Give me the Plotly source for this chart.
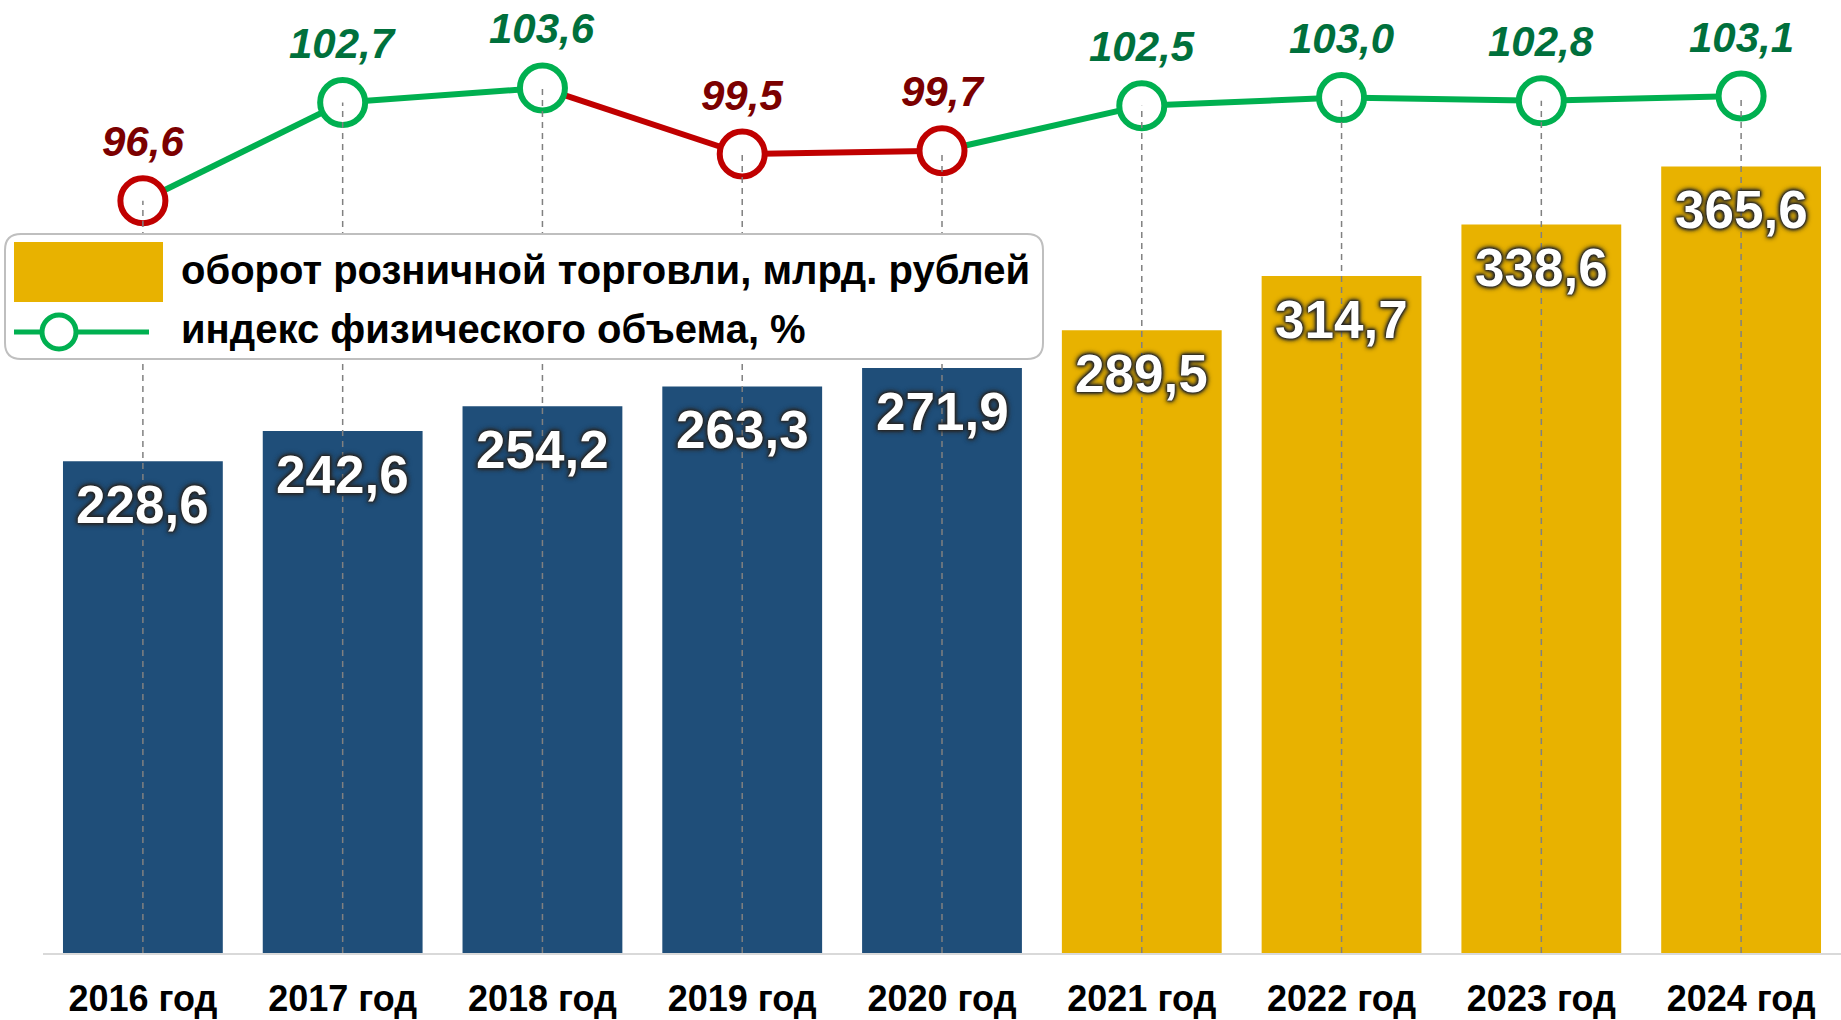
import plotly.graph_objects as go

# ---------------- data ----------------
categories = ["2016 год", "2017 год", "2018 год", "2019 год", "2020 год",
              "2021 год", "2022 год", "2023 год", "2024 год"]
turnover = [228.6, 242.6, 254.2, 263.3, 271.9, 289.5, 314.7, 338.6, 365.6]
volume_index = [96.6, 102.7, 103.6, 99.5, 99.7, 102.5, 103.0, 102.8, 103.1]
legend_labels = ["оборот розничной торговли, млрд. рублей",
                 "индекс физического объема, %"]

# ---------------- styles ----------------
NAVY = "#1F4E79"
GOLD = "#E8B200"
GREEN = "#00B050"
RED = "#C00000"
GREEN_TXT = "#00703C"
RED_TXT = "#7B0000"
FONT = "Liberation Sans, Arial, sans-serif"
N_HIST = 5  # first five bars are navy

W, H = 1841, 1020
ML, MR, MT, MB = 43, 0, 0, 67
PW, PH = W - ML - MR, H - MT - MB
Y1_RANGE = [0, 443]
Y2_RANGE = [49.9, 109.06]
SHADOW = ("0 0 1px #262626, 0 0 2px #262626, 0 0 3px #262626, 0 0 4px #262626, "
          "0 0 5px #2b2b2b, 0 0 6px #333")


def fmt(v):
    return f"{v:.1f}".replace(".", ",")


def px(x):
    return (x - ML) / PW


def py(y):
    return (H - MB - y) / PH


bar_colors = [NAVY if i < N_HIST else GOLD for i in range(len(categories))]

fig = go.Figure()

fig.add_trace(go.Bar(
    x=categories, y=turnover, marker=dict(color=bar_colors, line=dict(width=0)),
    yaxis="y", showlegend=False, hoverinfo="skip",
))

# line segments coloured by the value they lead to
for i in range(1, len(categories)):
    col = GREEN if volume_index[i] >= 100 else RED
    fig.add_trace(go.Scatter(
        x=categories[i - 1:i + 1], y=volume_index[i - 1:i + 1], mode="lines",
        line=dict(color=col, width=6), yaxis="y2", showlegend=False, hoverinfo="skip",
    ))

pt_colors = [GREEN if v >= 100 else RED for v in volume_index]
fig.add_trace(go.Scatter(
    x=categories, y=volume_index, mode="markers",
    marker=dict(size=45, color="white", line=dict(color=pt_colors, width=6)),
    yaxis="y2", showlegend=False, hoverinfo="skip",
))

# dashed drop lines
dx, dy = [], []
for c, v in zip(categories, volume_index):
    dx += [c, c, None]
    dy += [Y2_RANGE[0], v, None]
fig.add_trace(go.Scatter(
    x=dx, y=dy, mode="lines", line=dict(color="#808080", width=1.5, dash="6px,5px"),
    yaxis="y2", showlegend=False, hoverinfo="skip",
))

annotations = []
for c, v in zip(categories, turnover):
    annotations.append(dict(
        x=c, y=v, xref="x", yref="y", yshift=-43, showarrow=False,
        text=fmt(v), xanchor="center", yanchor="middle",
        font=dict(family=FONT, size=53, weight="bold", color="white", shadow=SHADOW),
    ))
for c, v in zip(categories, volume_index):
    annotations.append(dict(
        x=c, y=v, xref="x", yref="y2", yshift=59, showarrow=False,
        text=fmt(v), xanchor="center", yanchor="middle",
        font=dict(family=FONT, size=42, weight="bold", style="italic",
                  color=GREEN_TXT if v >= 100 else RED_TXT),
    ))

# custom legend
x0, x1, y0, y1, r = 5, 1043, 234, 359, 16
rx, ry = r / PW, r / PH
X0, X1, Y0, Y1 = px(x0), px(x1), py(y1), py(y0)
path = (f"M {X0+rx},{Y0} L {X1-rx},{Y0} Q {X1},{Y0} {X1},{Y0+ry} "
        f"L {X1},{Y1-ry} Q {X1},{Y1} {X1-rx},{Y1} L {X0+rx},{Y1} "
        f"Q {X0},{Y1} {X0},{Y1-ry} L {X0},{Y0+ry} Q {X0},{Y0} {X0+rx},{Y0} Z")
shapes = [
    dict(type="path", path=path, xref="paper", yref="paper", fillcolor="white",
         line=dict(color="#BFBFBF", width=2), layer="above"),
    dict(type="rect", xref="paper", yref="paper", x0=px(14), x1=px(163),
         y0=py(302), y1=py(242), fillcolor=GOLD, line=dict(width=0), layer="above"),
    dict(type="line", xref="paper", yref="paper", x0=px(14), x1=px(149),
         y0=py(332), y1=py(332), line=dict(color=GREEN, width=5), layer="above"),
    dict(type="circle", xref="paper", yref="paper", x0=px(59 - 17), x1=px(59 + 17),
         y0=py(332 + 17), y1=py(332 - 17), fillcolor="white",
         line=dict(color=GREEN, width=5), layer="above"),
]
for lbl, yy in zip(legend_labels, [270, 329]):
    annotations.append(dict(
        x=px(179), y=py(yy), xref="paper", yref="paper", showarrow=False,
        xanchor="left", yanchor="middle", text=lbl,
        font=dict(family=FONT, size=40, weight="bold", color="black"),
    ))

fig.update_layout(
    width=W, height=H, margin=dict(l=ML, r=MR, t=MT, b=MB),
    paper_bgcolor="white", plot_bgcolor="white", bargap=0.2,
    xaxis=dict(showgrid=False, showline=True, linecolor="#D9D9D9", linewidth=2,
               automargin=False, range=[-0.5, len(categories) - 0.5],
               ticks="outside", ticklen=13, tickcolor="rgba(0,0,0,0)",
               tickfont=dict(family=FONT, size=36, color="black", weight="bold")),
    yaxis=dict(range=Y1_RANGE, visible=False, showgrid=False, zeroline=False,
               automargin=False),
    yaxis2=dict(range=Y2_RANGE, overlaying="y", visible=False, showgrid=False,
                zeroline=False, automargin=False),
    shapes=shapes, annotations=annotations, showlegend=False,
)

fig.write_html("out.html")
